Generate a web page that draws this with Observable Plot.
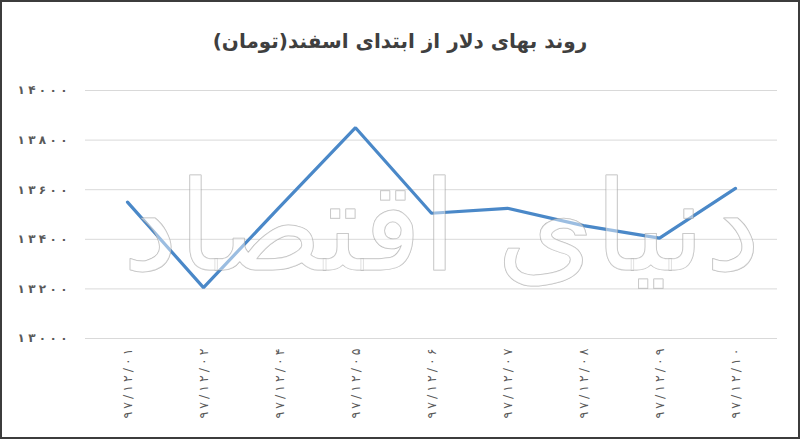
<!DOCTYPE html>
<html><head><meta charset="utf-8">
<script src="https://cdn.jsdelivr.net/npm/d3@7"></script>
<script src="https://cdn.jsdelivr.net/npm/@observablehq/plot@0.6"></script>
<style>
html,body{margin:0;padding:0;background:#fff;}
#wrap{width:800px;height:439px;box-sizing:border-box;border:2px solid #3c3c3c;background:#fff;overflow:hidden;font-family:"DejaVu Sans",sans-serif;}
#title{height:68px;line-height:78px;text-align:center;font-size:20px;font-weight:bold;color:#3f3f3f;direction:rtl;}
g[aria-label="y-axis tick label"] text{font-weight:bold;font-size:12px;}
g[aria-label="x-axis tick label"] text{font-size:12.5px;}
</style></head>
<body><div id="wrap"><div id="title">روند بهای دلار از ابتدای اسفند(تومان)</div><div id="chart"></div></div>
<script>
const dates = ["۹۷/۱۲/۰۱","۹۷/۱۲/۰۲","۹۷/۱۲/۰۴","۹۷/۱۲/۰۵","۹۷/۱۲/۰۶","۹۷/۱۲/۰۷","۹۷/۱۲/۰۸","۹۷/۱۲/۰۹","۹۷/۱۲/۱۰"];
const prices = [13550, 13205, 13530, 13850, 13505, 13525, 13455, 13405, 13605];
const yTicks = [13000, 13200, 13400, 13600, 13800, 14000];
const watermark = "دنیای اقتصاد";

const fa = n => String(n).replace(/\d/g, d => "۰۱۲۳۴۵۶۷۸۹"[d]);
const data = dates.map((d, i) => ({date: d, price: prices[i]}));

const chart = Plot.plot({
  width: 796, height: 365,
  marginTop: 20, marginBottom: 97, marginLeft: 83, marginRight: 21,
  style: {fontFamily: "DejaVu Sans, sans-serif", fontSize: "12px", color: "#595959", background: "#fff"},
  x: {type: "band", domain: dates, padding: 0, label: null, tickSize: 0, tickPadding: 10, tickRotate: -90},
  y: {domain: [13000, 14000], ticks: yTicks, tickFormat: fa, label: null, tickSize: 0, tickPadding: 18},
  marks: [
    Plot.gridY(yTicks, {stroke: "#d9d9d9", strokeOpacity: 1, strokeWidth: 1}),
    Plot.line(data, {x: "date", y: "price", stroke: "#4a88c8", strokeWidth: 3.2, strokeLinejoin: "miter"}),
    Plot.text([watermark], {frameAnchor: "middle", dx: 10, dy: 15, text: d => d, fontSize: 125, fontFamily: "DejaVu Sans", fill: "white", fillOpacity: 0.45, stroke: "#9a9a9a", strokeWidth: 1, strokeOpacity: 0.7})
  ]
});
d3.select(chart).selectAll('g[aria-label="y-axis tick label"] text').attr("textLength", 50).attr("lengthAdjust", "spacing");
d3.select(chart).selectAll('g[aria-label="x-axis tick label"] text').attr("textLength", 70).attr("lengthAdjust", "spacing");
document.getElementById("chart").appendChild(chart);
</script>
</body></html>
